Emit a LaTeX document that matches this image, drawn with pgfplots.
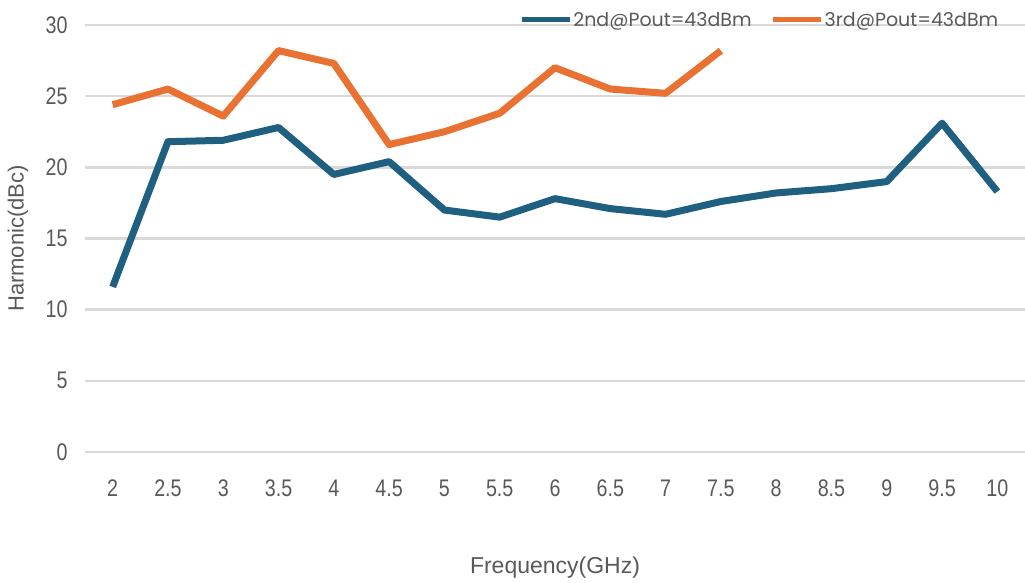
\documentclass[border=0pt]{standalone}
\usepackage{pgfplots}
\pgfplotsset{compat=1.18}
\usepackage{fontspec}
\setmainfont{Liberation Sans}
\newfontfamily\tickfont{Liberation Sans}[FakeStretch=0.82]
\newfontfamily\legfont{Poppins}
\definecolor{sblue}{HTML}{1F5F7F}
\definecolor{sorange}{HTML}{E97132}
\definecolor{gridc}{HTML}{D9D9D9}
\definecolor{txt}{HTML}{595959}

\begin{document}
\begin{tikzpicture}
\begin{axis}[
    name=ax, at={(0,0)}, anchor=south west,
    scale only axis, width=940pt, height=427pt,
    xmin=-0.5, xmax=16.5, ymin=0, ymax=30,
    xtick={0,...,16},
    xticklabels={2,2.5,3,3.5,4,4.5,5,5.5,6,6.5,7,7.5,8,8.5,9,9.5,10},
    ytick={0,5,10,15,20,25,30},
    axis line style={draw=none},
    major tick length=0pt,
    ymajorgrids, grid style={gridc, line width=2.5pt},
    tick label style={font=\tickfont\fontsize{24}{24}\selectfont, text=txt},
    /pgf/number format/assume math mode=true,
    yticklabel style={xshift=-14pt},
    xticklabel style={yshift=-24pt},
    xlabel={Frequency(GHz)}, ylabel={Harmonic(dBc)},
    xlabel style={font=\fontsize{23}{23}\selectfont, text=txt,
        at={(axis description cs:0.5,-0.2717)}, anchor=center},
    ylabel style={font=\fontsize{22}{22}\selectfont, text=txt,
        at={(axis description cs:-0.0713,0.5)}, anchor=center},
    legend style={draw=none, fill=none, at={(0.976,1.012)}, anchor=east,
        font=\legfont\fontsize{19}{19}\selectfont, text=txt,
        /tikz/every even column/.append style={column sep=18pt},
        nodes={inner xsep=1pt}},
    legend columns=2,
    legend image code/.code={\draw[#1, line width=5pt] (0pt,0pt) -- (48pt,0pt);},
]
\addplot[sblue, line width=7pt, line join=round] coordinates {
    (0,11.6)(1,21.8)(2,21.9)(3,22.8)(4,19.5)(5,20.4)(6,17.0)(7,16.5)(8,17.8)
    (9,17.1)(10,16.7)(11,17.6)(12,18.2)(13,18.5)(14,19.0)(15,23.1)(16,18.3)
};
\addlegendentry{2nd@Pout=43dBm}
\addplot[sorange, line width=7pt, line join=round] coordinates {
    (0,24.4)(1,25.5)(2,23.6)(3,28.2)(4,27.3)(5,21.6)(6,22.5)(7,23.8)(8,27.0)
    (9,25.5)(10,25.2)(11,28.2)
};
\addlegendentry{3rd@Pout=43dBm}
\end{axis}
\pgfresetboundingbox
\path ([shift={(-85pt,-131pt)}]ax.south west) rectangle ([shift={(0pt,25pt)}]ax.north east);
\end{tikzpicture}
\end{document}
